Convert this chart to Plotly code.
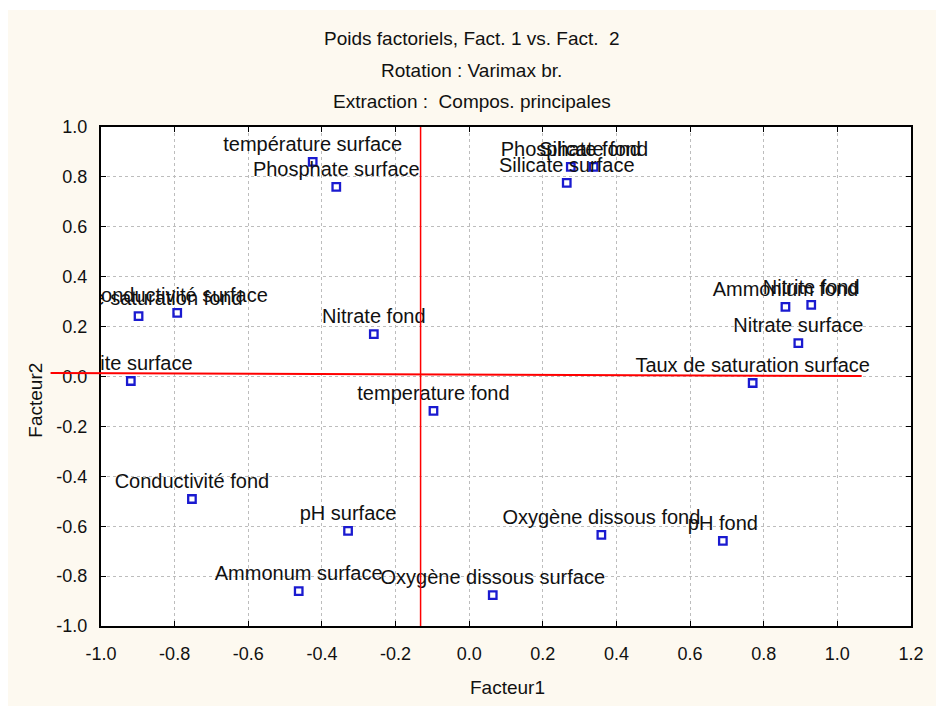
import plotly.graph_objects as go

# ---- data (factor loadings) ----
labels = [
    "température surface", "Phosphate surface", "Phosphate fond", "Silicate fond",
    "Silicate surface", "Taux de saturation fond", "Conductivité surface",
    "Nitrite surface", "Nitrate fond", "temperature fond", "Conductivité fond",
    "pH surface", "Ammonum surface", "Oxygène dissous surface",
    "Oxygène dissous fond", "pH fond", "Taux de saturation surface",
    "Nitrate surface", "Ammonium fond", "Nitrite fond",
]
facteur1 = [-0.425, -0.361, 0.276, 0.338, 0.265, -0.898, -0.793, -0.919, -0.259,
            -0.097, -0.753, -0.329, -0.463, 0.064, 0.359, 0.689, 0.770, 0.894,
            0.859, 0.929]
facteur2 = [0.860, 0.760, 0.840, 0.840, 0.776, 0.242, 0.255, -0.018, 0.170,
            -0.138, -0.491, -0.619, -0.860, -0.876, -0.635, -0.659, -0.026,
            0.134, 0.279, 0.287]

x_ticks = [-1.0, -0.8, -0.6, -0.4, -0.2, 0.0, 0.2, 0.4, 0.6, 0.8, 1.0, 1.2]
x_ticktext = ["-1.0", "-0.8", "-0.6", "-0.4", "-0.2", "0.0", "0.2", "0.4",
              "0.6", "0.8", "1.0", "1.2"]
y_ticks = [-1.0, -0.8, -0.6, -0.4, -0.2, 0.0, 0.2, 0.4, 0.6, 0.8, 1.0]
y_ticktext = ["-1.0", "-0.8", "-0.6", "-0.4", "-0.2", "0.0", "0.2", "0.4",
              "0.6", "0.8", "1.0"]

# red reference lines (data coordinates)
vline_x = -0.132
hline_x = [-1.137, 1.066]
hline_y = [0.014, 0.002]

title_lines = ["Poids factoriels, Fact. 1 vs. Fact.  2",
               "Rotation : Varimax br.",
               "Extraction :  Compos. principales"]

X_RANGE = [-1.0, 1.2]
Y_RANGE = [-1.0, 1.0]


def px_(x):
    return (x - X_RANGE[0]) / (X_RANGE[1] - X_RANGE[0])


def py_(y):
    return (y - Y_RANGE[0]) / (Y_RANGE[1] - Y_RANGE[0])


FONT = "Liberation Sans, Arial, sans-serif"

fig = go.Figure()
fig.add_trace(go.Scatter(
    x=facteur1, y=facteur2, text=labels, mode="markers+text",
    textposition="top center",
    textfont=dict(family=FONT, size=20, color="#111111"),
    marker=dict(symbol="square-open", size=7.5, color="#1a1ad0",
                line=dict(width=2.3, color="#1a1ad0")),
    cliponaxis=True, showlegend=False, hoverinfo="text",
))

shapes = [
    # thin white strips at the top and left of the image
    dict(type="rect", xref="paper", yref="paper", x0=-0.2, x1=1.1,
         y0=1.2345, y1=1.3, fillcolor="white", line_width=0, layer="below"),
    dict(type="rect", xref="paper", yref="paper", x0=-0.2, x1=-0.1148,
         y0=-0.3, y1=1.3, fillcolor="white", line_width=0, layer="below"),
    # red reference lines
    dict(type="line", xref="paper", yref="paper",
         x0=px_(vline_x), x1=px_(vline_x), y0=0, y1=1,
         line=dict(color="#ff0000", width=1.5), layer="above"),
    dict(type="line", xref="paper", yref="paper",
         x0=px_(hline_x[0]), x1=px_(hline_x[1]),
         y0=py_(hline_y[0]), y1=py_(hline_y[1]),
         line=dict(color="#ff0000", width=2), layer="above"),
]

annotations = []
for t, yy in zip(title_lines, [1.178, 1.114, 1.052]):
    annotations.append(dict(text=t, xref="paper", yref="paper", x=0.458, y=yy,
                            xanchor="center", yanchor="middle", showarrow=False,
                            font=dict(family=FONT, size=19, color="#111111")))
annotations.append(dict(text="Facteur1", xref="paper", yref="paper", x=0.502,
                        y=-0.124, xanchor="center", yanchor="middle",
                        showarrow=False,
                        font=dict(family=FONT, size=19, color="#111111")))
annotations.append(dict(text="Facteur2", xref="paper", yref="paper", x=-0.0806,
                        y=0.453, xanchor="center", yanchor="middle",
                        textangle=-90, showarrow=False,
                        font=dict(family=FONT, size=19, color="#111111")))

axis_common = dict(
    showline=True, linecolor="black", linewidth=2, mirror="allticks",
    ticks="inside", ticklen=5, tickwidth=1, tickcolor="black",
    showgrid=True, gridcolor="#bdbdbd", griddash="dot", gridwidth=1,
    zeroline=False, tickfont=dict(family=FONT, size=18, color="#111111"),
)

fig.update_layout(
    width=936, height=706,
    margin=dict(l=101, r=16, t=127, b=80),
    paper_bgcolor="#fdf9f0", plot_bgcolor="white",
    shapes=shapes, annotations=annotations,
    xaxis=dict(range=X_RANGE, tickvals=x_ticks, ticktext=x_ticktext,
               ticklabelstandoff=10, **axis_common),
    yaxis=dict(range=Y_RANGE, tickvals=y_ticks, ticktext=y_ticktext,
               ticklabelstandoff=8, **axis_common),
)

# remove the browser's default body margin so the figure fills the window
fig.write_html(
    "out.html",
    config={"displayModeBar": False},
    post_script="document.body.style.margin='0';"
                "document.body.style.overflow='hidden';",
)
